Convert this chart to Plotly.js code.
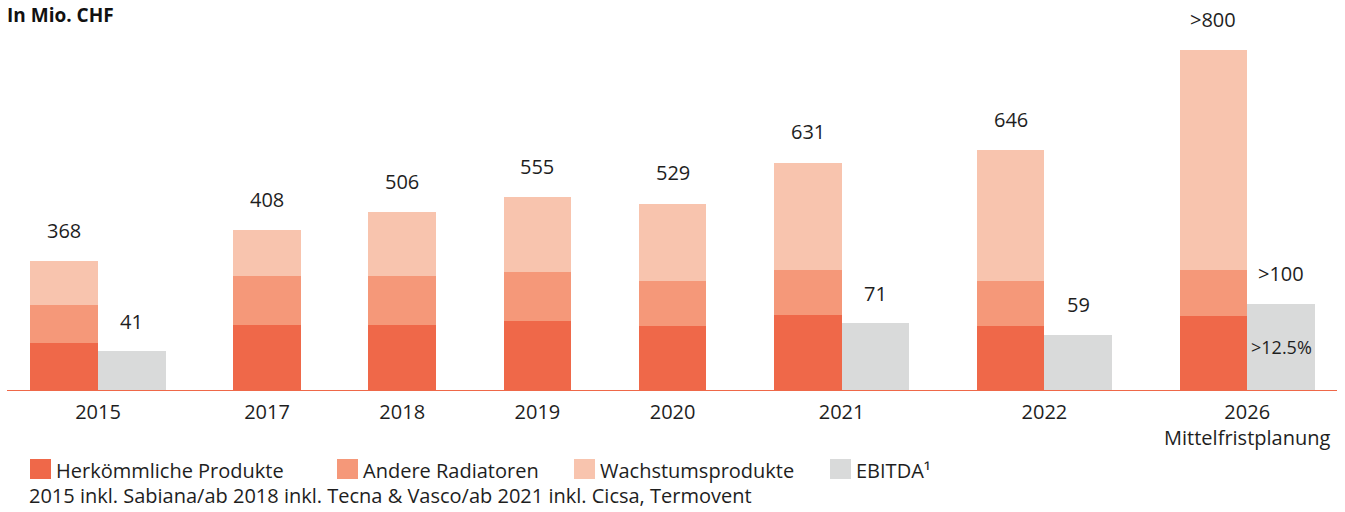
<!DOCTYPE html>
<html>
<head>
<meta charset="utf-8">
<script src="https://cdn.plot.ly/plotly-3.0.1.min.js"></script>
<style>
  html, body { margin: 0; padding: 0; background: #ffffff; }
  #chart { width: 1345px; height: 512px; }
</style>
</head>
<body>
<div id="chart"></div>
<script>
// ---- Data ----
const categories = ['2015', '2017', '2018', '2019', '2020', '2021', '2022', '2026'];
const tickLabels = ['2015', '2017', '2018', '2019', '2020', '2021', '2022', '2026<br>Mittelfristplanung'];
const seriesNames = ['Herkömmliche Produkte', 'Andere Radiatoren', 'Wachstumsprodukte', 'EBITDA¹'];
const herkoemmlich = [132, 182, 182, 193, 179, 210, 179, 207];
const andereRadiatoren = [106, 137, 137, 137, 126, 126, 126, 129];
const wachstum = [123, 129, 179, 210, 216, 300, 367, 616];
const ebitda = [41, null, null, null, null, 71, 59, 92];
const totalLabels = ['368', '408', '506', '555', '529', '631', '646', '>800'];
const ebitdaLabels = ['41', '', '', '', '', '71', '59', '>100'];
const ebitdaMarginLabels = ['', '', '', '', '', '', '', '>12.5%'];
const footnote = '2015 inkl. Sabiana/ab 2018 inkl. Tecna & Vasco/ab 2021 inkl. Cicsa, Termovent';
const unitTitle = 'In Mio. CHF';

// ---- Layout / style settings ----
const slotPos = [0, 5, 9, 13, 17, 22, 28, 34];
const colors = ['#EF6849', '#F59879', '#F8C4AE', '#D9DADA'];
const FONT = 'Open Sans, Noto Sans, sans-serif';
const TEXT = '#1e1e1e';
const W = 1345, H = 512;
const M = {l: 7, r: 8, t: 20, b: 122};
const plotW = W - M.l - M.r, plotH = H - M.t - M.b;
const pxX = px => (px - M.l) / plotW;
const pxY = py => (H - M.b - py) / plotH;

const hasE = ebitda.map(v => v !== null);
const revX = slotPos.map((p, i) => hasE[i] ? p - 1 : p);
const ebX = slotPos.map(p => p + 1);

const revSeries = [herkoemmlich, andereRadiatoren, wachstum];
const traces = revSeries.map((vals, k) => ({
  type: 'bar', name: seriesNames[k], x: revX, y: vals, width: 2,
  marker: {color: colors[k], line: {width: 0}}, showlegend: false,
  hoverinfo: 'skip', xaxis: 'x', yaxis: 'y'
}));
traces.push({
  type: 'bar', name: seriesNames[3], x: ebX, y: ebitda, width: 2,
  marker: {color: colors[3], line: {width: 0}}, showlegend: false,
  hoverinfo: 'skip', xaxis: 'x', yaxis: 'y2'
});

const annotations = [];
categories.forEach((c, i) => {
  const tot = herkoemmlich[i] + andereRadiatoren[i] + wachstum[i];
  annotations.push({x: revX[i], y: tot, xref: 'x', yref: 'y', text: totalLabels[i],
    showarrow: false, yshift: 31, font: {family: FONT, size: 20, color: TEXT}});
  if (hasE[i]) {
    annotations.push({x: ebX[i], y: ebitda[i], xref: 'x', yref: 'y2', text: ebitdaLabels[i],
      showarrow: false, yshift: 30, font: {family: FONT, size: 20, color: TEXT}});
    if (ebitdaMarginLabels[i]) {
      annotations.push({x: ebX[i], y: ebitda[i] / 2, xref: 'x', yref: 'y2', text: ebitdaMarginLabels[i],
        showarrow: false, font: {family: FONT, size: 18, color: TEXT}});
    }
  }
});

// title (kept fully inside the page)
annotations.push({x: pxX(5), y: pxY(0), xref: 'paper', yref: 'paper', xanchor: 'left', yanchor: 'top',
  text: '<b>' + unitTitle + '</b>', showarrow: false, font: {family: FONT, size: 19, color: '#111'}});

// manual legend
const legSq = [30, 337, 574, 830];
const shapes = [];
seriesNames.forEach((n, k) => {
  shapes.push({type: 'rect', xref: 'paper', yref: 'paper',
    x0: pxX(legSq[k]), x1: pxX(legSq[k] + 21), y0: pxY(479), y1: pxY(459),
    fillcolor: colors[k], line: {width: 0}});
  annotations.push({x: pxX(legSq[k] + 24), y: pxY(470), xref: 'paper', yref: 'paper',
    xanchor: 'left', yanchor: 'middle', text: n, showarrow: false,
    font: {family: FONT, size: 20, color: TEXT}});
});
annotations.push({x: pxX(27), y: pxY(511), xref: 'paper', yref: 'paper',
  xanchor: 'left', yanchor: 'bottom', text: footnote, showarrow: false,
  font: {family: FONT, size: 20, color: TEXT}});

const xRange = [-(98 - M.l) / 33.8, 0];
xRange[1] = xRange[0] + plotW / 33.8;

const layout = {
  width: W, height: H, margin: M,
  paper_bgcolor: '#ffffff', plot_bgcolor: '#ffffff',
  barmode: 'stack', showlegend: false,
  font: {family: FONT, color: TEXT},
  xaxis: {range: xRange, tickmode: 'array', tickvals: slotPos, ticktext: tickLabels,
    showgrid: false, zeroline: false, showline: true, linecolor: '#EF6849', linewidth: 1,
    ticks: '', ticklabelstandoff: 4, tickfont: {family: FONT, size: 20, color: TEXT}, fixedrange: true},
  yaxis: {range: [0, plotH * 2.8], visible: false, showgrid: false, zeroline: false, fixedrange: true},
  yaxis2: {range: [0, plotH / 0.94], overlaying: 'y', visible: false, showgrid: false, zeroline: false, fixedrange: true},
  annotations: annotations, shapes: shapes
};

Plotly.newPlot('chart', traces, layout, {staticPlot: true, displayModeBar: false});
</script>
</body>
</html>
